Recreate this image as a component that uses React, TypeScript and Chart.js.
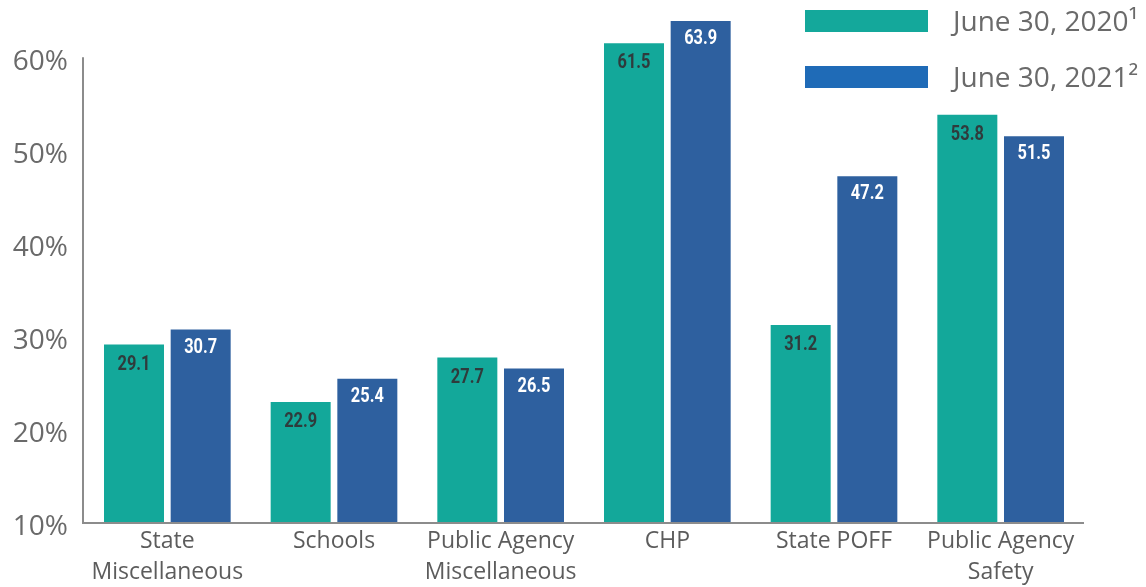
import React, { useEffect, useRef } from "react";
import { Chart, registerables } from "chart.js";

Chart.register(...registerables);

const categories: string[][] = [
  ["State", "Miscellaneous"],
  ["Schools"],
  ["Public Agency", "Miscellaneous"],
  ["CHP"],
  ["State POFF"],
  ["Public Agency", "Safety"],
];
const seriesLabels = ["June 30, 2020\u00B9", "June 30, 2021\u00B2"];
const values2020 = [29.1, 22.9, 27.7, 61.5, 31.2, 53.8];
const values2021 = [30.7, 25.4, 26.5, 63.9, 47.2, 51.5];
const yTicks = [10, 20, 30, 40, 50, 60];

const barColors = ["#13A89A", "#2E609F"];
const legendColors = ["#14A89B", "#1F6BB7"];
const valueColors = ["#2F3B3C", "#FFFFFF"];

const valueLabelPlugin = {
  id: "valueLabels",
  afterDatasetsDraw(chart: any) {
    const ctx = chart.ctx;
    chart.data.datasets.forEach((ds: any, di: number) => {
      const meta = chart.getDatasetMeta(di);
      meta.data.forEach((bar: any, i: number) => {
        ctx.save();
        ctx.font = 'bold 21px "Roboto", "Liberation Sans", sans-serif';
        ctx.textAlign = "center";
        ctx.textBaseline = "middle";
        ctx.fillStyle = valueColors[di];
        const off = di === 0 ? 20 : 18;
        ctx.translate(bar.x, bar.y + off);
        ctx.scale(0.78, 1);
        ctx.fillText(ds.data[i].toFixed(1), 0, 0);
        ctx.restore();
      });
    });
  },
};

const axisLinePlugin = {
  id: "axisLines",
  afterDraw(chart: any) {
    const ctx = chart.ctx;
    const y = chart.scales.y;
    const area = chart.chartArea;
    ctx.save();
    ctx.strokeStyle = "#8C8C8C";
    ctx.lineWidth = 2;
    ctx.beginPath();
    ctx.moveTo(area.left - 1, y.getPixelForValue(yTicks[yTicks.length - 1]));
    ctx.lineTo(area.left - 1, y.getPixelForValue(yTicks[0]) + 1);
    ctx.lineTo(area.right, y.getPixelForValue(yTicks[0]) + 1);
    ctx.stroke();
    ctx.restore();
  },
};

const legendPlugin = {
  id: "customLegend",
  afterDraw(chart: any) {
    const ctx = chart.ctx;
    ctx.save();
    const boxX = 805;
    const boxW = 123;
    const boxH = 22;
    const rows = [10, 66];
    ctx.font = '28px "Open Sans", sans-serif';
    ctx.textBaseline = "middle";
    ctx.textAlign = "left";
    seriesLabels.forEach((lbl, i) => {
      ctx.fillStyle = legendColors[i];
      ctx.fillRect(boxX, rows[i], boxW, boxH);
      ctx.fillStyle = "#6A6A6A";
      ctx.fillText(lbl, 953, rows[i] + boxH / 2 + 2);
    });
    ctx.restore();
  },
};

export default function App() {
  const ref = useRef<HTMLCanvasElement | null>(null);
  useEffect(() => {
    if (!ref.current) return;
    const chart = new Chart(ref.current, {
      type: "bar",
      data: {
        labels: categories,
        datasets: [
          {
            label: seriesLabels[0],
            data: values2020,
            backgroundColor: barColors[0],
            categoryPercentage: 0.8,
            barPercentage: 0.9,
          },
          {
            label: seriesLabels[1],
            data: values2021,
            backgroundColor: barColors[1],
            categoryPercentage: 0.8,
            barPercentage: 0.9,
          },
        ],
      },
      options: {
        animation: false,
        responsive: false,
        maintainAspectRatio: false,
        layout: { padding: { top: 6, right: 62, left: 0, bottom: 0 } },
        plugins: {
          legend: { display: false },
          tooltip: { enabled: false },
        },
        scales: {
          x: {
            grid: { display: false, drawTicks: false },
            border: { display: false },
            ticks: {
              color: "#5C5C5C",
              font: { family: '"Open Sans", sans-serif', size: 23, lineHeight: 1.35 },
              padding: 4,
              maxRotation: 0,
              autoSkip: false,
            },
            afterFit(scale: any) {
              scale.height = 65;
              scale.paddingLeft = 0;
              scale.paddingRight = 0;
            },
          },
          y: {
            min: 10,
            max: 65.5,
            grid: { display: false, drawTicks: false },
            border: { display: false },
            ticks: {
              stepSize: 10,
              color: "#6A6A6A",
              font: { family: '"Open Sans", sans-serif', size: 28 },
              padding: 16,
              labelOffset: 5,
              callback: (v: any) => (yTicks.includes(Number(v)) ? `${v}%` : ""),
            },
            afterFit(scale: any) {
              scale.width = 84;
              scale.paddingTop = 0;
              scale.paddingBottom = 0;
            },
          },
        },
      },
      plugins: [valueLabelPlugin, axisLinePlugin, legendPlugin],
    });
    return () => chart.destroy();
  }, []);
  return (
    <div style={{ position: "fixed", left: 0, top: 0, width: 1146, height: 587, background: "#fff" }}>
      <canvas ref={ref} width={1146} height={587} style={{ width: 1146, height: 587 }} />
    </div>
  );
}
